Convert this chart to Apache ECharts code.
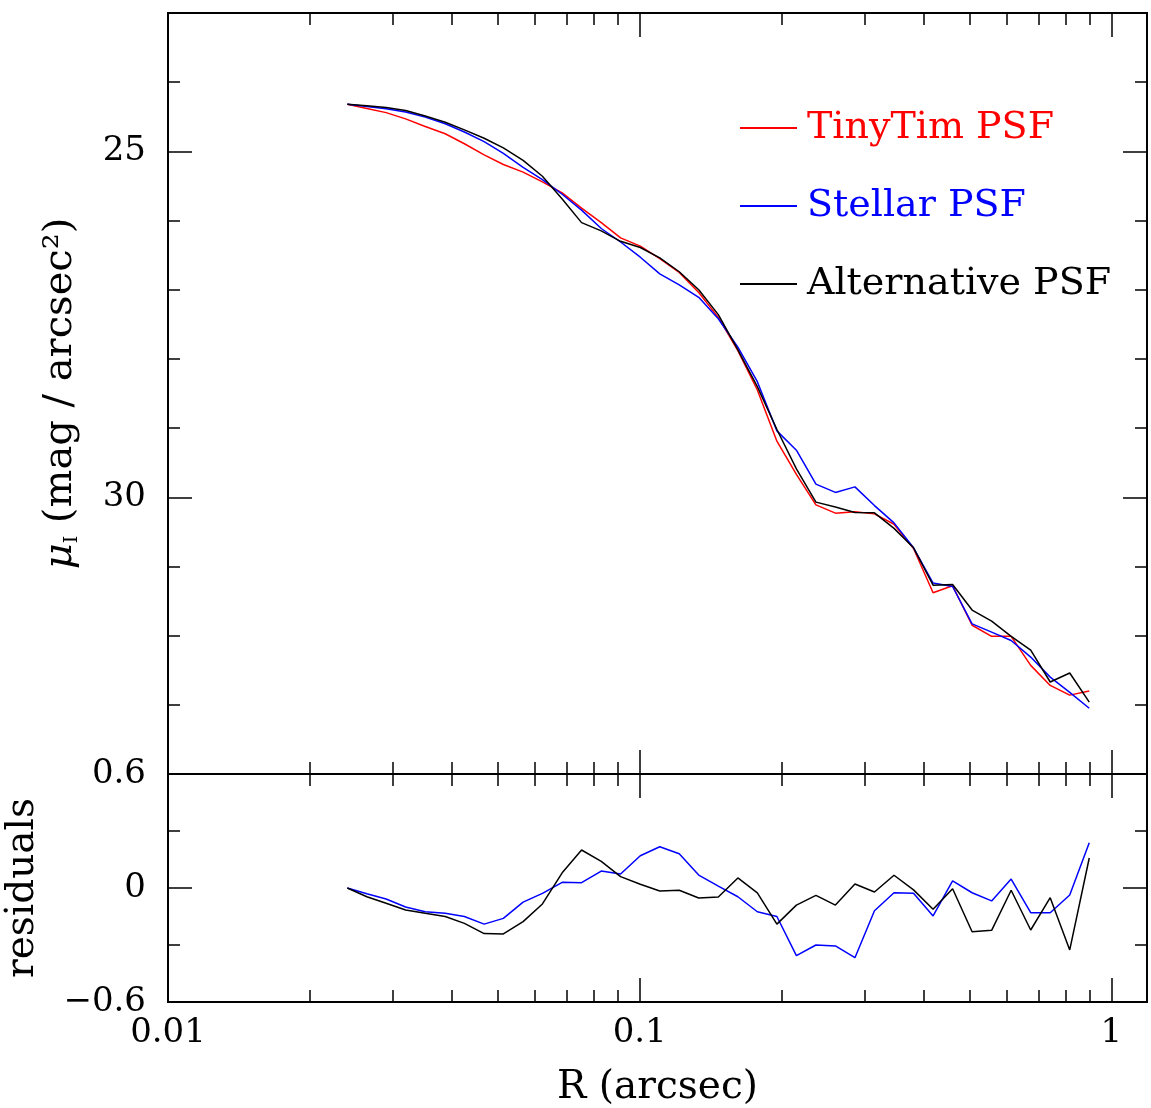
<!DOCTYPE html>
<html>
<head>
<meta charset="utf-8">
<script src="https://cdn.jsdelivr.net/npm/echarts@6.0.0/dist/echarts.min.js"></script>
<style>
html,body{margin:0;padding:0;background:#fff;}
#chart{width:1151px;height:1108px;}
</style>
</head>
<body>
<div id="chart"></div>
<script>
// Radius (arcsec) of each profile point
const R = [0.024, 0.0264, 0.0290, 0.0319, 0.0351, 0.0387, 0.0425, 0.0468, 0.0514, 0.0566,
  0.0622, 0.0685, 0.0753, 0.0829, 0.0911, 0.1003, 0.1103, 0.1213, 0.1334, 0.1468,
  0.1615, 0.1776, 0.1954, 0.2149, 0.2364, 0.2600, 0.2860, 0.3146, 0.3461, 0.3807,
  0.4188, 0.4607, 0.5067, 0.5574, 0.6131, 0.6745, 0.7419, 0.8161, 0.8977];

// Surface brightness (mag / arcsec^2)
const tinyTim = [24.32, 24.38, 24.44, 24.53, 24.64, 24.745, 24.89, 25.05, 25.19, 25.30,
  25.44, 25.60, 25.82, 26.03, 26.25, 26.37, 26.55, 26.75, 27.04, 27.40,
  27.88, 28.45, 29.19, 29.67, 30.11, 30.23, 30.21, 30.24, 30.39, 30.74,
  31.38, 31.28, 31.85, 32.01, 32.01, 32.43, 32.72, 32.86, 32.80];
const stellar = [24.32, 24.35, 24.385, 24.43, 24.505, 24.60, 24.72, 24.86, 25.03, 25.23,
  25.41, 25.62, 25.85, 26.115, 26.31, 26.53, 26.77, 26.93, 27.11, 27.42,
  27.83, 28.33, 29.04, 29.32, 29.81, 29.93, 29.85, 30.12, 30.37, 30.73,
  31.24, 31.29, 31.83, 31.95, 32.07, 32.31, 32.60, 32.82, 33.05];
const alternative = [24.32, 24.34, 24.365, 24.41, 24.49, 24.58, 24.69, 24.81, 24.95, 25.13,
  25.36, 25.69, 26.03, 26.15, 26.30, 26.39, 26.54, 26.74, 27.00, 27.36,
  27.87, 28.40, 29.02, 29.59, 30.07, 30.14, 30.22, 30.225, 30.45, 30.73,
  31.27, 31.26, 31.63, 31.79, 32.01, 32.21, 32.67, 32.54, 32.96];

// Residuals
const resStellar = [0, -0.03, -0.058, -0.10, -0.125, -0.133, -0.15, -0.19, -0.16, -0.074,
  -0.028, 0.03, 0.028, 0.089, 0.074, 0.17, 0.217, 0.18, 0.068, 0.01,
  -0.046, -0.125, -0.15, -0.356, -0.30, -0.305, -0.367, -0.12, -0.025, -0.028,
  -0.147, 0.038, -0.025, -0.068, 0.047, -0.13, -0.13, -0.037, 0.238];
const resAlternative = [0, -0.046, -0.08, -0.116, -0.133, -0.15, -0.186, -0.24, -0.242, -0.177,
  -0.084, 0.08, 0.20, 0.14, 0.06, 0.02, -0.016, -0.012, -0.053, -0.047,
  0.053, -0.026, -0.19, -0.09, -0.039, -0.09, 0.021, -0.021, 0.067, -0.01,
  -0.112, -0.004, -0.23, -0.223, -0.012, -0.221, -0.051, -0.326, 0.158];

// Ticks
const xMajorTicks = [0.01, 0.1, 1];
const xMinorTicks = [0.02, 0.03, 0.04, 0.05, 0.06, 0.07, 0.08, 0.09, 0.2, 0.3, 0.4, 0.5, 0.6, 0.7, 0.8, 0.9];
const yTopMajor = [25, 30];
const yTopMinor = [24, 26, 27, 28, 29, 31, 32, 33];
const yBotMajor = [-0.6, 0, 0.6];
const yBotMinor = [-0.3, 0.3];

const FONT = 'DejaVu Serif';
const TICKW = 1.5;

function xAx(grid, pos, ticks, len, withLabels, extra) {
  const a = {
    type: 'log', logBase: 10, gridIndex: grid, position: pos, min: 0.01, max: 1.19,
    axisLine: { show: false, onZero: false },
    splitLine: { show: false }, minorTick: { show: false }, minorSplitLine: { show: false },
    axisTick: { show: true, inside: true, length: len, customValues: ticks, lineStyle: { color: '#000', width: TICKW } },
    axisLabel: withLabels ? {
      show: true, customValues: ticks, margin: 14, color: '#000', fontFamily: FONT, fontSize: 34,
      showMinLabel: true, showMaxLabel: true,
      formatter: v => String(+(+v).toPrecision(6))
    } : { show: false }
  };
  return Object.assign(a, extra || {});
}
function yAx(grid, pos, min, max, inverse, ticks, len, withLabels, extra) {
  const a = {
    type: 'value', gridIndex: grid, position: pos, min: min, max: max, inverse: inverse,
    axisLine: { show: false, onZero: false },
    splitLine: { show: false }, minorTick: { show: false },
    axisTick: { show: true, inside: true, length: len, customValues: ticks, lineStyle: { color: '#000', width: TICKW } },
    axisLabel: withLabels ? {
      show: true, customValues: ticks, margin: 22, color: '#000', fontFamily: FONT, fontSize: 34,
      showMinLabel: true, showMaxLabel: true,
      formatter: v => (v < 0 ? '\u2212' + String(+(-v).toFixed(2)) : String(+(+v).toFixed(2)))
    } : { show: false }
  };
  return Object.assign(a, extra || {});
}

const xAxes = [];
const yAxes = [];
// upper panel
const xTop0 = xAxes.length;
xAxes.push(xAx(0, 'bottom', xMajorTicks, 24, false));
xAxes.push(xAx(0, 'bottom', xMinorTicks, 12, false));
xAxes.push(xAx(0, 'top', xMajorTicks, 24, false));
xAxes.push(xAx(0, 'top', xMinorTicks, 12, false));
const yTop0 = yAxes.length;
yAxes.push(yAx(0, 'left', 23, 34, true, yTopMajor, 24, true, {
  name: '{mu|\u03bc}{sub|I} (mag / arcsec\u00b2)', nameLocation: 'middle', nameRotate: 90, nameGap: 86,
  nameTextStyle: {
    color: '#000', fontFamily: FONT, fontSize: 40, lineHeight: 42,
    rich: {
      mu: { fontFamily: FONT, fontSize: 40, fontStyle: 'italic', color: '#000', lineHeight: 42 },
      sub: { fontFamily: FONT, fontSize: 19, color: '#000', lineHeight: 17, verticalAlign: 'bottom' }
    }
  }
}));
yAxes.push(yAx(0, 'left', 23, 34, true, yTopMinor, 12, false));
yAxes.push(yAx(0, 'right', 23, 34, true, yTopMajor, 24, false));
yAxes.push(yAx(0, 'right', 23, 34, true, yTopMinor, 12, false));
// lower panel
const xBot0 = xAxes.length;
xAxes.push(xAx(1, 'bottom', xMajorTicks, 24, true, {
  name: 'R (arcsec)', nameLocation: 'middle', nameGap: 66,
  nameTextStyle: { color: '#000', fontFamily: FONT, fontSize: 39 }
}));
xAxes.push(xAx(1, 'bottom', xMinorTicks, 12, false));
xAxes.push(xAx(1, 'top', xMajorTicks, 24, false));
xAxes.push(xAx(1, 'top', xMinorTicks, 12, false));
const yBot0 = yAxes.length;
yAxes.push(yAx(1, 'left', -0.6, 0.6, false, yBotMajor, 24, true, {
  name: 'residuals', nameLocation: 'middle', nameRotate: 90, nameGap: 126,
  nameTextStyle: { color: '#000', fontFamily: FONT, fontSize: 39 }
}));
yAxes.push(yAx(1, 'left', -0.6, 0.6, false, yBotMinor, 12, false));
yAxes.push(yAx(1, 'right', -0.6, 0.6, false, yBotMajor, 24, false));
yAxes.push(yAx(1, 'right', -0.6, 0.6, false, yBotMinor, 12, false));

function pairs(ys) { return R.map((r, i) => [r, ys[i]]); }
function lineSeries(name, color, ys, xi, yi) {
  return {
    type: 'line', name: name, xAxisIndex: xi, yAxisIndex: yi, data: pairs(ys),
    symbol: 'none', showSymbol: false, smooth: false,
    lineStyle: { color: color, width: 1.5 }, itemStyle: { color: color },
    emphasis: { disabled: true }, silent: true
  };
}

const option = {
  animation: false,
  backgroundColor: '#fff',
  grid: [
    { left: 168, top: 13, width: 979, height: 761, show: true, borderColor: '#000', borderWidth: 2, backgroundColor: 'transparent', containLabel: false, outerBoundsMode: 'none' },
    { left: 168, top: 774, width: 979, height: 228, show: true, borderColor: '#000', borderWidth: 2, backgroundColor: 'transparent', containLabel: false, outerBoundsMode: 'none' }
  ],
  legend: {
    orient: 'vertical', left: 735, top: 102, itemWidth: 57, itemHeight: 2, itemGap: 36,
    icon: 'rect',
    textStyle: { fontFamily: FONT, fontSize: 38, lineHeight: 42, padding: [0, 0, 0, 5] },
    selectedMode: false,
    data: [
      { name: 'TinyTim PSF', textStyle: { color: '#ff0000' } },
      { name: 'Stellar PSF', textStyle: { color: '#0000ff' } },
      { name: 'Alternative PSF', textStyle: { color: '#000000' } }
    ]
  },
  xAxis: xAxes,
  yAxis: yAxes,
  series: [
    lineSeries('TinyTim PSF', '#ff0000', tinyTim, xTop0, yTop0),
    lineSeries('Stellar PSF', '#0000ff', stellar, xTop0, yTop0),
    lineSeries('Alternative PSF', '#000000', alternative, xTop0, yTop0),
    lineSeries('Stellar PSF', '#0000ff', resStellar, xBot0, yBot0),
    lineSeries('Alternative PSF', '#000000', resAlternative, xBot0, yBot0)
  ]
};

const chart = echarts.init(document.getElementById('chart'), null, { renderer: 'canvas' });
chart.setOption(option);
</script>
</body>
</html>
